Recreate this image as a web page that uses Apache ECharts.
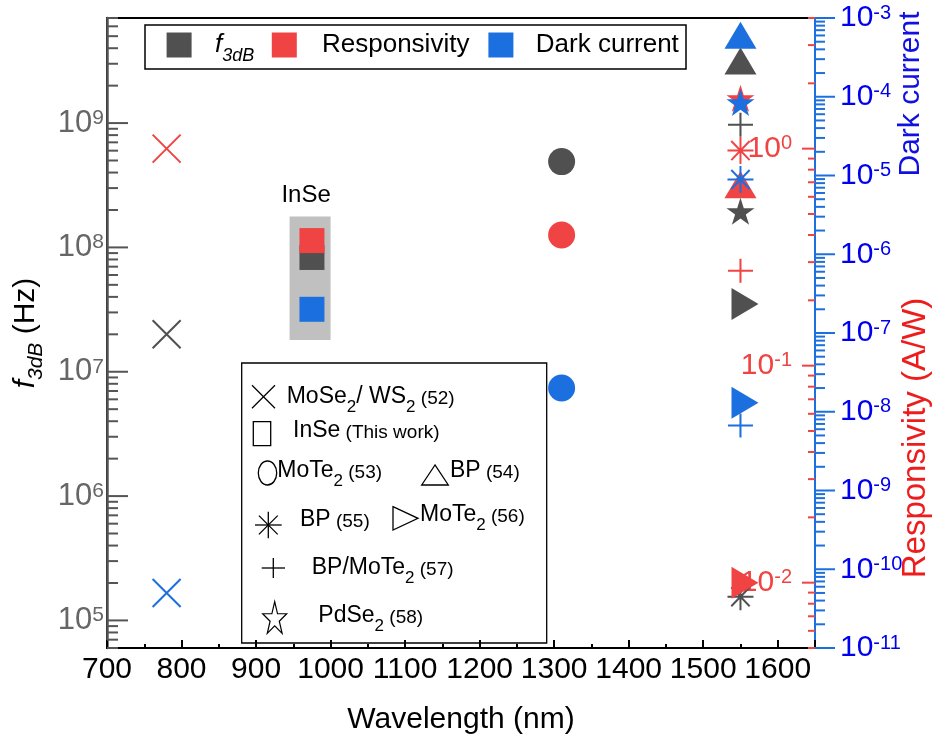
<!DOCTYPE html>
<html>
<head>
<meta charset="utf-8">
<script src="https://cdn.jsdelivr.net/npm/echarts@6.0.0/dist/echarts.min.js"></script>
<style>
html,body{margin:0;padding:0;background:#fff;}
#chart{width:937px;height:740px;}
</style>
</head>
<body>
<div id="chart"></div>
<script>
// ---------------- data ----------------
const materials    = ['MoSe2/WS2 (52)', 'InSe (This work)', 'MoTe2 (53)', 'BP (54)', 'BP (55)', 'MoTe2 (56)', 'BP/MoTe2 (57)', 'PdSe2 (58)'];
const wavelength   = [780, 975, 1310, 1550, 1550, 1550, 1550, 1550];          // nm
const f3dB         = [2.0e7, 8.3e7, 4.9e8, 2.9e9, 1.55e5, 3.5e7, 9.7e8, 1.9e8]; // Hz
const responsivity = [1.0, 0.377, 0.40, 0.65, 0.98, 0.010, 0.274, 1.68];       // A/W
const darkCurrent  = [5.0e-11, 2.0e-7, 2.0e-8, 5.3e-4, 8.9e-6, 1.3e-8, 6.7e-9, 8.1e-5]; // A
const inseBoxX     = [945, 1000];      // nm, grey highlight of this work
const inseBoxF3dB  = [1.8e7, 1.77e8];  // Hz
const xRange       = [700, 1650];
const f3dBRange    = [6e4, 7e9];
const respRange    = [0.005, 4];
const darkRange    = [1e-11, 1e-3];

// ---------------- styles ----------------
const FONT = '"Liberation Sans", Arial, Helvetica, sans-serif';
const C_F = '#505050', C_R = '#f04343', C_D = '#1c6fde';

function starPath() {
  const pts = [];
  for (let i = 0; i < 10; i++) {
    const r = i % 2 === 0 ? 100 : 38.2;
    const a = (-90 + 36 * i) * Math.PI / 180;
    pts.push((r * Math.cos(a)).toFixed(2) + ',' + (r * Math.sin(a)).toFixed(2));
  }
  return 'M' + pts.join('L') + 'Z';
}
const SYM = [
  {symbol: 'path://M0,0L20,20M20,0L0,20', size: [28, 28], stroke: true},
  {symbol: 'rect', size: [25, 25]},
  {symbol: 'circle', size: [27, 27]},
  {symbol: 'triangle', size: [32, 27], offset: [0, -4.5]},
  {symbol: 'path://M10,0L10,20M0,10L20,10M2.93,2.93L17.07,17.07M17.07,2.93L2.93,17.07', size: [26, 27], stroke: true},
  {symbol: 'path://M0,0L27,16L0,32Z', size: [27, 32], offset: [4.5, 0]},
  {symbol: 'path://M10,0L10,20M0,10L20,10', size: [25, 24], stroke: true},
  {symbol: 'path://' + starPath(), size: [28, 27], offset: [0, -1.4]}
];

function logTicks(min, max) {
  const out = [];
  for (let e = Math.floor(Math.log10(min)); e <= Math.ceil(Math.log10(max)); e++) {
    for (let k = 1; k <= 9; k++) {
      const v = k * Math.pow(10, e);
      if (v >= min * 0.9999 && v <= max * 1.0001) out.push([v, k === 1 ? 1 : 0]);
    }
  }
  return out;
}
function powLabel(v) {
  const e = Math.log10(v);
  const r = Math.round(e);
  if (Math.abs(e - r) > 1e-6) return '';
  return '{b|10}{sup|' + r + '}';
}
function richPow(color, fs, sfs) {
  return {
    b: {fontSize: fs, lineHeight: fs, color: color, fontFamily: FONT},
    sup: {fontSize: sfs, lineHeight: sfs, verticalAlign: 'top', color: color, fontFamily: FONT}
  };
}
function tickSeries(yIdx, range, anchorX, dir, majorLen, minorLen, color) {
  return {
    type: 'custom', xAxisIndex: 0, yAxisIndex: yIdx, silent: true, clip: false, z: 10,
    data: logTicks(range[0], range[1]).map(t => [anchorX, t[0], t[1]]),
    encode: {x: 0, y: 1},
    renderItem: function (params, api) {
      const p = api.coord([api.value(0), api.value(1)]);
      const len = api.value(2) ? majorLen : minorLen;
      return {type: 'line', shape: {x1: p[0], y1: p[1], x2: p[0] + dir * len, y2: p[1]},
              style: {stroke: color, lineWidth: 2}};
    }
  };
}

// ---------------- series ----------------
const series = [];
series.push({
  type: 'custom', xAxisIndex: 0, yAxisIndex: 0, silent: true, z: 1,
  data: [[inseBoxX[0], inseBoxF3dB[0], inseBoxX[1], inseBoxF3dB[1]]],
  encode: {x: [0, 2], y: [1, 3]},
  renderItem: function (params, api) {
    const p1 = api.coord([api.value(0), api.value(3)]);
    const p2 = api.coord([api.value(2), api.value(1)]);
    return {type: 'group', children: [
      {type: 'rect', shape: {x: p1[0], y: p1[1], width: p2[0] - p1[0], height: p2[1] - p1[1]},
       style: {fill: '#c0c0c0'}},
      {type: 'text', style: {text: 'InSe', x: (p1[0] + p2[0]) / 2 - 4, y: p1[1] - 9,
        align: 'center', verticalAlign: 'bottom', fontSize: 24, fontFamily: FONT, fill: '#000'}}
    ]};
  }
});
const metrics = [
  {vals: f3dB, axis: 0, color: C_F, name: 'f3dB'},
  {vals: responsivity, axis: 1, color: C_R, name: 'Responsivity'},
  {vals: darkCurrent, axis: 2, color: C_D, name: 'Dark current'}
];
metrics.forEach(m => materials.forEach((mat, i) => {
  const s = SYM[i];
  series.push({
    type: 'scatter', name: mat + ' / ' + m.name, xAxisIndex: 0, yAxisIndex: m.axis,
    symbol: s.symbol, symbolSize: s.size, symbolOffset: s.offset || [0, 0],
    data: [[wavelength[i], m.vals[i]]],
    itemStyle: s.stroke ? {color: 'rgba(0,0,0,0)', borderColor: m.color, borderWidth: 2, opacity: 1}
                        : {color: m.color, opacity: 1},
    emphasis: {disabled: true}, silent: true, z: 3
  });
}));
series.push(tickSeries(0, f3dBRange, xRange[0], 1, 21, 11, '#555'));
series.push(tickSeries(1, respRange, xRange[1], -1, 13, 7, C_R));
series.push(tickSeries(2, darkRange, xRange[1], 1, 20, 10, C_D));

// ---------------- legends & titles (graphic) ----------------
const legRich = {
  m: {fontSize: 23, lineHeight: 37, fontFamily: FONT, color: '#000'},
  s: {fontSize: 17, lineHeight: 17, verticalAlign: 'bottom', fontFamily: FONT, color: '#000'},
  r: {fontSize: 19, lineHeight: 19, padding: [3, 0, 0, 0], fontFamily: FONT, color: '#000'}
};
function lTxt(x, y, text) {
  return {type: 'text', x: x, y: y, style: {text: text, rich: legRich, verticalAlign: 'middle', align: 'left', fontFamily: FONT, fill: '#000'}};
}
function gLine(x1, y1, x2, y2) {
  return {type: 'line', shape: {x1: x1, y1: y1, x2: x2, y2: y2}, style: {stroke: '#000', lineWidth: 1.3}};
}
function starPoly(left, top, w, h) {
  const pts = [];
  for (let i = 0; i < 10; i++) {
    const r = i % 2 === 0 ? 1 : 0.382;
    const a = (-90 + 36 * i) * Math.PI / 180;
    const ux = r * Math.cos(a), uy = r * Math.sin(a);
    pts.push([left + (ux + 0.951) / 1.902 * w, top + (uy + 1) / 1.809 * h]);
  }
  return {type: 'polygon', shape: {points: pts}, style: {fill: 'none', stroke: '#000', lineWidth: 1.2}};
}
const d45 = 9.4;
const graphics = [
  // top legend
  {type: 'rect', shape: {x: 145, y: 25, width: 541, height: 44}, style: {fill: '#fff', stroke: '#000', lineWidth: 1.5}},
  {type: 'rect', shape: {x: 166.6, y: 32.5, width: 25, height: 25}, style: {fill: C_F}},
  {type: 'text', x: 215, y: 45, style: {text: '{i|f}{s|3dB}', verticalAlign: 'middle', rich: {
    i: {fontSize: 26, lineHeight: 40, fontStyle: 'italic', fontFamily: FONT, color: '#000'},
    s: {fontSize: 18, lineHeight: 18, verticalAlign: 'bottom', fontStyle: 'italic', fontFamily: FONT, color: '#000'}}}},
  {type: 'rect', shape: {x: 271.8, y: 32.5, width: 25, height: 25}, style: {fill: C_R}},
  {type: 'text', x: 322, y: 45, style: {text: 'Responsivity', verticalAlign: 'middle', fontSize: 26, fontFamily: FONT, fill: '#000'}},
  {type: 'rect', shape: {x: 488.4, y: 32.5, width: 25, height: 25}, style: {fill: C_D}},
  {type: 'text', x: 535.8, y: 45, style: {text: 'Dark current', verticalAlign: 'middle', fontSize: 26, fontFamily: FONT, fill: '#000'}},
  // material legend
  {type: 'rect', shape: {x: 241.7, y: 363, width: 305, height: 280}, style: {fill: 'none', stroke: '#000', lineWidth: 1.3}},
  gLine(252, 385.2, 275, 408.2), gLine(275, 385.2, 252, 408.2),
  lTxt(286.7, 397, '{m|MoSe}{s|2}{m|/ WS}{s|2}{r| (52)}'),
  {type: 'rect', shape: {x: 253.3, y: 421.7, width: 17.4, height: 24}, style: {fill: 'none', stroke: '#000', lineWidth: 1.3}},
  lTxt(293, 431, '{m|InSe}{r| (This work)}'),
  {type: 'ellipse', shape: {cx: 267.5, cy: 473, rx: 9.2, ry: 12}, style: {fill: 'none', stroke: '#000', lineWidth: 1.3}},
  lTxt(277.3, 471, '{m|MoTe}{s|2}{r| (53)}'),
  {type: 'polygon', shape: {points: [[435, 465], [421.7, 485], [448.3, 485]]}, style: {fill: 'none', stroke: '#000', lineWidth: 1.3}},
  lTxt(450, 471, '{m|BP}{r| (54)}'),
  gLine(268.3, 511.7, 268.3, 538.3), gLine(255, 525, 281.7, 525),
  gLine(268.3 - d45, 525 - d45, 268.3 + d45, 525 + d45), gLine(268.3 + d45, 525 - d45, 268.3 - d45, 525 + d45),
  lTxt(300, 520, '{m|BP}{r| (55)}'),
  {type: 'polygon', shape: {points: [[393, 506.7], [418, 518.3], [393, 530]]}, style: {fill: 'none', stroke: '#000', lineWidth: 1.3}},
  lTxt(420, 515, '{m|MoTe}{s|2}{r| (56)}'),
  gLine(261.7, 568, 285, 568), gLine(273.3, 558, 273.3, 578),
  lTxt(311.7, 568, '{m|BP/MoTe}{s|2}{r| (57)}'),
  starPoly(262.7, 601.7, 24, 31.6),
  lTxt(318.3, 616, '{m|PdSe}{s|2}{r| (58)}'),
  // right axis titles
  {type: 'text', x: 911, y: 94, rotation: Math.PI / 2, style: {text: 'Dark current', align: 'center', verticalAlign: 'middle', fontSize: 30, fontFamily: FONT, fill: '#1010e0'}},
  {type: 'text', x: 916, y: 438, rotation: Math.PI / 2, style: {text: 'Responsivity (A/W)', align: 'center', verticalAlign: 'middle', fontSize: 33, fontFamily: FONT, fill: '#ee1c1c'}}
];

// ---------------- chart ----------------
const chart = echarts.init(document.getElementById('chart'), null, {renderer: 'canvas'});
chart.setOption({
  animation: false,
  backgroundColor: '#fff',
  textStyle: {fontFamily: FONT},
  grid: {left: 107, right: 122, top: 18, bottom: 90, show: true, borderColor: '#000', borderWidth: 2, backgroundColor: 'transparent'},
  xAxis: [
    {type: 'value', min: xRange[0], max: xRange[1], interval: 100, position: 'bottom',
     axisLine: {onZero: false, lineStyle: {color: '#000', width: 2}},
     axisTick: {inside: true, length: 8, lineStyle: {color: '#000', width: 2}},
     splitLine: {show: false},
     axisLabel: {margin: 7, fontSize: 30, color: '#000', fontFamily: FONT,
       formatter: v => (v % 100 === 0 && v <= 1600) ? String(v) : ''},
     name: 'Wavelength (nm)', nameLocation: 'middle', nameGap: 57,
     nameTextStyle: {fontSize: 30, color: '#000', fontFamily: FONT}},
    {type: 'value', min: xRange[0], max: xRange[1], interval: 50, position: 'bottom',
     axisLine: {show: false, onZero: false}, axisLabel: {show: false}, splitLine: {show: false},
     axisTick: {inside: true, length: 4, lineStyle: {color: '#000', width: 2}}}
  ],
  yAxis: [
    {type: 'log', logBase: 10, min: f3dBRange[0], max: f3dBRange[1], position: 'left',
     axisLine: {show: true, lineStyle: {color: '#555', width: 2.5}},
     axisTick: {show: false}, splitLine: {show: false},
     axisLabel: {margin: 3, formatter: powLabel, rich: richPow('#666', 31, 21)},
     name: '{i|f}{s|3dB}{n| (Hz)}', nameLocation: 'middle', nameGap: 55, nameRotate: 90,
     nameTextStyle: {rich: {
       i: {fontSize: 30, lineHeight: 43, fontStyle: 'italic', color: '#000', fontFamily: FONT},
       s: {fontSize: 21, lineHeight: 21, verticalAlign: 'bottom', fontStyle: 'italic', color: '#000', fontFamily: FONT},
       n: {fontSize: 30, lineHeight: 43, color: '#000', fontFamily: FONT}}}},
    {type: 'log', logBase: 10, min: respRange[0], max: respRange[1], position: 'right',
     axisLine: {show: false}, axisTick: {show: false}, splitLine: {show: false},
     axisLabel: {inside: true, margin: 23, formatter: powLabel, rich: richPow(C_R, 30, 20)}},
    {type: 'log', logBase: 10, min: darkRange[0], max: darkRange[1], position: 'right',
     axisLine: {show: true, lineStyle: {color: C_D, width: 2}},
     axisTick: {show: false}, splitLine: {show: false},
     axisLabel: {margin: 25, formatter: powLabel, rich: richPow('#0000ee', 30, 20)}}
  ],
  graphic: graphics,
  series: series
});
</script>
</body>
</html>
